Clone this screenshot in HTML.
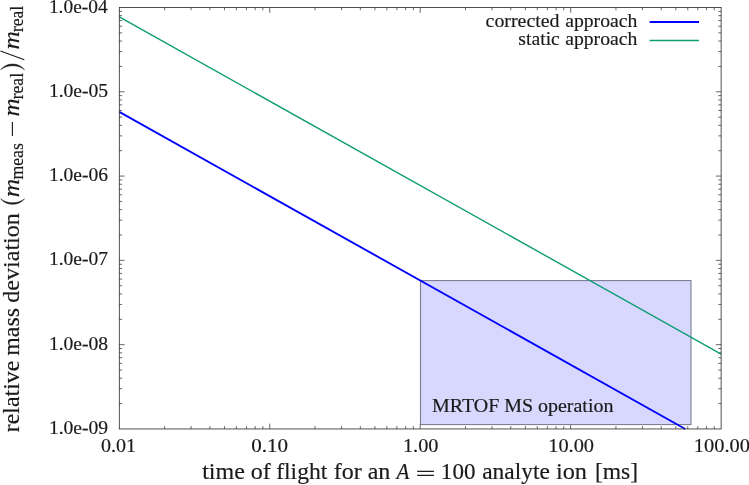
<!DOCTYPE html>
<html><head><meta charset="utf-8"><title>plot</title>
<style>
html,body{margin:0;padding:0;background:#fff;}
body{width:749px;height:485px;overflow:hidden;}
svg{display:block;}
text{font-family:"Liberation Serif",serif;fill:#1a1a1a;stroke:#1a1a1a;stroke-width:0.18px;}
</style></head><body>
<svg width="749" height="485" viewBox="0 0 749 485">
<defs><filter id="soft" x="-5%" y="-5%" width="110%" height="110%"><feGaussianBlur stdDeviation="0.35"/></filter></defs>
<rect width="749" height="485" fill="#fff"/>
<g>
<path d="M164.59 428.95v-2.8M164.59 7.50v2.8M191.09 428.95v-2.8M191.09 7.50v2.8M209.88 428.95v-2.8M209.88 7.50v2.8M224.46 428.95v-2.8M224.46 7.50v2.8M236.38 428.95v-2.8M236.38 7.50v2.8M246.45 428.95v-2.8M246.45 7.50v2.8M255.17 428.95v-2.8M255.17 7.50v2.8M262.87 428.95v-2.8M262.87 7.50v2.8M269.75 428.95v-5.3M269.75 7.50v5.3M315.05 428.95v-2.8M315.05 7.50v2.8M341.54 428.95v-2.8M341.54 7.50v2.8M360.34 428.95v-2.8M360.34 7.50v2.8M374.92 428.95v-2.8M374.92 7.50v2.8M386.83 428.95v-2.8M386.83 7.50v2.8M396.90 428.95v-2.8M396.90 7.50v2.8M405.63 428.95v-2.8M405.63 7.50v2.8M413.33 428.95v-2.8M413.33 7.50v2.8M420.21 428.95v-5.3M420.21 7.50v5.3M465.50 428.95v-2.8M465.50 7.50v2.8M492.00 428.95v-2.8M492.00 7.50v2.8M510.79 428.95v-2.8M510.79 7.50v2.8M525.37 428.95v-2.8M525.37 7.50v2.8M537.29 428.95v-2.8M537.29 7.50v2.8M547.36 428.95v-2.8M547.36 7.50v2.8M556.08 428.95v-2.8M556.08 7.50v2.8M563.78 428.95v-2.8M563.78 7.50v2.8M570.66 428.95v-5.3M570.66 7.50v5.3M615.96 428.95v-2.8M615.96 7.50v2.8M642.45 428.95v-2.8M642.45 7.50v2.8M661.25 428.95v-2.8M661.25 7.50v2.8M675.83 428.95v-2.8M675.83 7.50v2.8M687.74 428.95v-2.8M687.74 7.50v2.8M697.81 428.95v-2.8M697.81 7.50v2.8M706.54 428.95v-2.8M706.54 7.50v2.8M714.24 428.95v-2.8M714.24 7.50v2.8M119.30 403.58h2.8M721.12 403.58h-2.8M119.30 388.73h2.8M721.12 388.73h-2.8M119.30 378.20h2.8M721.12 378.20h-2.8M119.30 370.03h2.8M721.12 370.03h-2.8M119.30 363.36h2.8M721.12 363.36h-2.8M119.30 357.72h2.8M721.12 357.72h-2.8M119.30 352.83h2.8M721.12 352.83h-2.8M119.30 348.52h2.8M721.12 348.52h-2.8M119.30 344.66h5.3M721.12 344.66h-5.3M119.30 319.29h2.8M721.12 319.29h-2.8M119.30 304.44h2.8M721.12 304.44h-2.8M119.30 293.91h2.8M721.12 293.91h-2.8M119.30 285.74h2.8M721.12 285.74h-2.8M119.30 279.07h2.8M721.12 279.07h-2.8M119.30 273.43h2.8M721.12 273.43h-2.8M119.30 268.54h2.8M721.12 268.54h-2.8M119.30 264.23h2.8M721.12 264.23h-2.8M119.30 260.37h5.3M721.12 260.37h-5.3M119.30 235.00h2.8M721.12 235.00h-2.8M119.30 220.15h2.8M721.12 220.15h-2.8M119.30 209.62h2.8M721.12 209.62h-2.8M119.30 201.45h2.8M721.12 201.45h-2.8M119.30 194.78h2.8M721.12 194.78h-2.8M119.30 189.14h2.8M721.12 189.14h-2.8M119.30 184.25h2.8M721.12 184.25h-2.8M119.30 179.94h2.8M721.12 179.94h-2.8M119.30 176.08h5.3M721.12 176.08h-5.3M119.30 150.71h2.8M721.12 150.71h-2.8M119.30 135.86h2.8M721.12 135.86h-2.8M119.30 125.33h2.8M721.12 125.33h-2.8M119.30 117.16h2.8M721.12 117.16h-2.8M119.30 110.49h2.8M721.12 110.49h-2.8M119.30 104.85h2.8M721.12 104.85h-2.8M119.30 99.96h2.8M721.12 99.96h-2.8M119.30 95.65h2.8M721.12 95.65h-2.8M119.30 91.79h5.3M721.12 91.79h-5.3M119.30 66.42h2.8M721.12 66.42h-2.8M119.30 51.57h2.8M721.12 51.57h-2.8M119.30 41.04h2.8M721.12 41.04h-2.8M119.30 32.87h2.8M721.12 32.87h-2.8M119.30 26.20h2.8M721.12 26.20h-2.8M119.30 20.56h2.8M721.12 20.56h-2.8M119.30 15.67h2.8M721.12 15.67h-2.8M119.30 11.36h2.8M721.12 11.36h-2.8" stroke="#262626" stroke-width="0.7" fill="none"/>
<rect x="420.45" y="280.60" width="270.55" height="144.00" fill="#d8d8ff" stroke="#74748a" stroke-width="1"/>
<path d="M119.30 16.86L721.12 354.02" stroke="#0f9d74" stroke-width="1.4" fill="none"/>
<path d="M119.30 111.89L685.25 428.95" stroke="#0000ff" stroke-width="1.85" fill="none"/>
<rect x="119.30" y="7.50" width="601.82" height="421.45" fill="none" stroke="#262626" stroke-width="0.8"/>
<path d="M649.6 22.0H699.0" stroke="#0000ff" stroke-width="2"/>
<path d="M649.6 40.4H699.0" stroke="#0f9d74" stroke-width="1.5"/>
</g>
<g filter="url(#soft)">
<text transform="translate(48.90 12.60) scale(0.9709 0.9650)" font-size="20">1.0e-04</text>
<text transform="translate(48.89 96.89) scale(0.9793 0.9650)" font-size="20">1.0e-05</text>
<text transform="translate(48.89 181.18) scale(0.9772 0.9650)" font-size="20">1.0e-06</text>
<text transform="translate(48.89 265.47) scale(0.9772 0.9650)" font-size="20">1.0e-07</text>
<text transform="translate(48.89 349.76) scale(0.9793 0.9650)" font-size="20">1.0e-08</text>
<text transform="translate(48.89 434.05) scale(0.9793 0.9650)" font-size="20">1.0e-09</text>
<text transform="translate(100.95 452.20) scale(1.0030 0.9650)" font-size="20">0.01</text>
<text transform="translate(251.21 452.20) scale(1.0537 0.9650)" font-size="20">0.10</text>
<text transform="translate(402.92 452.20) scale(1.0154 0.9650)" font-size="20">1.00</text>
<text transform="translate(548.22 452.20) scale(1.0188 0.9650)" font-size="20">10.00</text>
<text transform="translate(693.81 452.20) scale(1.0229 0.9650)" font-size="20">100.00</text>
<text transform="translate(485.55 26.80) scale(0.9949 0.9600)" font-size="20">corrected</text>
<text transform="translate(565.16 26.80) scale(0.9855 0.9600)" font-size="20">approach</text>
<text transform="translate(518.36 44.80) scale(0.9835 0.9600)" font-size="20">static</text>
<text transform="translate(565.16 44.80) scale(0.9855 0.9600)" font-size="20">approach</text>
<text transform="translate(431.98 412.40) scale(1.0000 0.9700)" font-size="20">MRTOF MS</text>
<text transform="translate(537.95 412.40) scale(1.0000 0.9600)" font-size="20">operation</text>
<text transform="translate(202.15 479.00) scale(1.0000 0.9600)" font-size="24">time of</text>
<text transform="translate(276.16 479.00) scale(0.9858 0.9600)" font-size="24">flight</text>
<text transform="translate(333.65 479.00) scale(1.0018 0.9600)" font-size="24">for an</text>
<text transform="translate(396.61 479.00) scale(0.8806 1.0000)" font-size="24" font-style="italic">A</text>
<path d="M417.2 471.4H433.9M417.2 475.4H433.9" stroke="#1a1a1a" stroke-width="1.1" fill="none"/>
<text transform="translate(440.86 479.00) scale(0.9606 1.0000)" font-size="24">100</text>
<text transform="translate(482.14 479.00) scale(0.9774 0.9600)" font-size="24">analyte</text>
<text transform="translate(555.99 479.00) scale(1.0118 0.9600)" font-size="24">ion</text>
<text transform="translate(594.88 479.00) scale(0.9827 1.0000)" font-size="24">[ms]</text>
<text transform="translate(18.50 432.20) rotate(-90) scale(0.9954 0.9600)" font-size="24">relative</text>
<text transform="translate(18.50 355.70) rotate(-90) scale(0.9930 0.9600)" font-size="24">mass</text>
<text transform="translate(18.50 302.68) rotate(-90) scale(1.0023 0.9600)" font-size="24">deviation</text>
<text transform="translate(18.50 197.13) rotate(-90) scale(1.0581 0.9600)" font-size="24" font-style="italic">m</text>
<text transform="translate(22.80 179.46) rotate(-90) scale(0.9541 1.0000)" font-size="18.5">meas</text>
<text transform="translate(18.50 116.51) rotate(-90) scale(1.0387 0.9600)" font-size="24" font-style="italic">m</text>
<text transform="translate(22.80 99.26) rotate(-90) scale(0.9481 1.0000)" font-size="18.5">real</text>
<text transform="translate(18.50 49.53) rotate(-90) scale(1.0581 0.9600)" font-size="24" font-style="italic">m</text>
<text transform="translate(22.80 32.05) rotate(-90) scale(0.9444 1.0000)" font-size="18.5">real</text>
<path d="M12.4 136V121.9" stroke="#1a1a1a" stroke-width="1.1" fill="none"/>
<path d="M0.7 198.8 C6.2 206.2 19 206.2 24.5 198.8 C19 204.0 6.2 204.0 0.7 198.8Z" fill="#1a1a1a" stroke="#1a1a1a" stroke-width="0.5" stroke-linejoin="round"/>
<path d="M0.7 69.8 C6.2 62.1 19 62.1 24.5 69.8 C19 64.4 6.2 64.4 0.7 69.8Z" fill="#1a1a1a" stroke="#1a1a1a" stroke-width="0.5" stroke-linejoin="round"/>
<path d="M24.3 59.7L0.5 51" stroke="#1a1a1a" stroke-width="1.1" fill="none"/>
</g>
</svg>
</body></html>
